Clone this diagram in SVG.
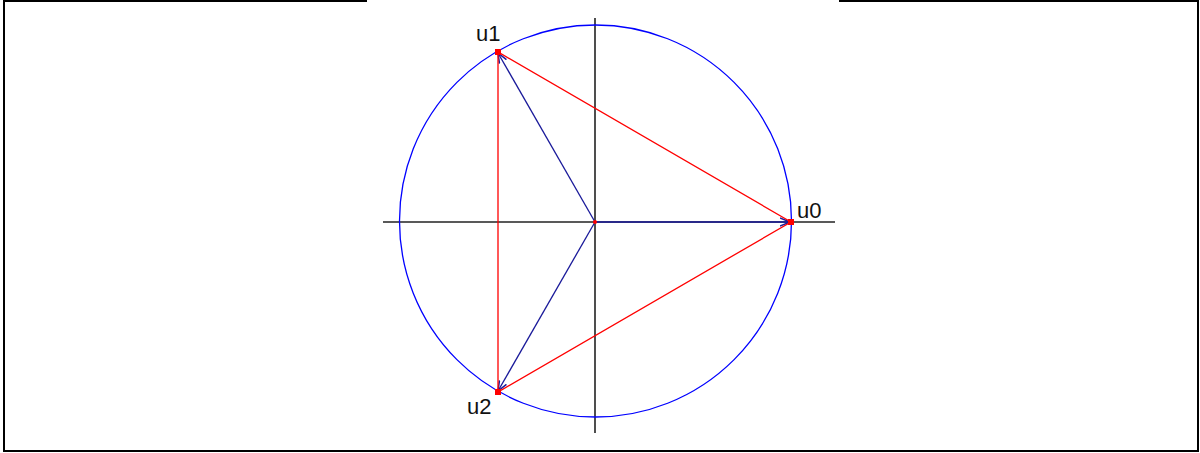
<svg xmlns="http://www.w3.org/2000/svg" width="1200" height="453" viewBox="0 0 1200 453">
<style>
.frame{stroke:#000;stroke-width:2;fill:none}
.axis{stroke:#222;stroke-width:1.6;fill:none}
.circ{stroke:#0000ff;stroke-width:1.3;fill:none}
.vec{stroke:#1a1a9a;stroke-width:1.3;fill:none;marker-end:url(#ah)}
.tri{stroke:#ff0000;stroke-width:1.3;fill:none}
.dot{fill:#ff0000}
.lbl{font-family:"Liberation Sans",Arial,sans-serif;font-size:22px;fill:#111}
</style>
<defs>
<marker id="ah" viewBox="0 0 10 10" refX="10" refY="5" markerWidth="10" markerHeight="10" markerUnits="userSpaceOnUse" orient="auto">
<path d="M0,1 L10,5 L0,9" fill="none" stroke="#1a1a9a" stroke-width="1.5"/>
</marker>
</defs>
<g id="frame">
<path class="frame" d="M4,0 V451 H1198 V0"/>
<path class="frame" d="M4,1 H367 M839,1 H1198"/>
</g>
<g id="axes">
<line class="axis" x1="383" y1="222" x2="835" y2="222"/>
<line class="axis" x1="595" y1="18" x2="595" y2="433"/>
</g>
<g id="circle">
<circle class="circ" cx="595.5" cy="221" r="196"/>
</g>
<g id="connectors">
<line class="vec" x1="595" y1="222" x2="790" y2="222"/>
<line class="vec" x1="595" y1="222" x2="498" y2="53"/>
<line class="vec" x1="595" y1="222" x2="498" y2="391"/>
<polygon class="tri" points="791,222 498,52 498,392"/>
</g>
<g id="center"><circle class="dot" cx="595" cy="222" r="2"/></g>
<g id="u0">
<rect class="dot" x="788" y="219" width="6" height="6"/>
<text class="lbl" x="797" y="218">u0</text>
</g>
<g id="u1">
<rect class="dot" x="495" y="49" width="6" height="6"/>
<text class="lbl" x="476" y="41">u1</text>
</g>
<g id="u2">
<rect class="dot" x="495" y="389" width="6" height="6"/>
<text class="lbl" x="467" y="414">u2</text>
</g>
</svg>
